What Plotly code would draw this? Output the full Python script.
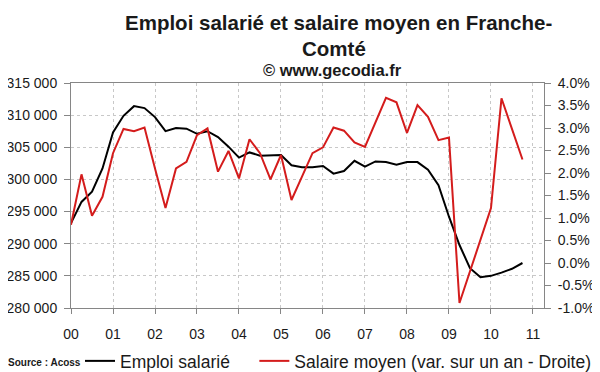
import plotly.graph_objects as go

# Quarterly index: 0 = 2000 Q1 ... 43 = 2010 Q4
quarters = list(range(44))

emploi = [293200, 296500, 298100, 301700, 307300, 309900, 311400, 311100,
          309700, 307500, 308000, 307900, 307100, 307500, 306600, 305100,
          303400, 304200, 303700, 303700, 303800, 302200, 301900, 301900,
          302100, 300900, 301300, 302900, 302000, 302800, 302700, 302300,
          302700, 302700, 301500, 299100, 294200, 289800, 286200, 284800,
          285000, 285500, 286100, 287000]

salaire = [0.85, 1.97, 1.05, 1.47, 2.44, 2.98, 2.93, 3.01,
           2.10, 1.22, 2.10, 2.25, 2.84, 2.99, 2.03, 2.49,
           1.88, 2.75, 2.44, 1.86, 2.40, 1.40, 1.92, 2.44,
           2.57, 3.01, 2.94, 2.68, 2.58, 3.12, 3.67, 3.57,
           2.89, 3.51, 3.25, 2.73, 2.79, -0.89, -0.19, 0.51,
           1.22, 3.66, 2.98, 2.30]

year_ticks = [0, 4, 8, 12, 16, 20, 24, 28, 32, 36, 40, 44]
year_labels = ["00", "01", "02", "03", "04", "05", "06", "07", "08", "09", "10", "11"]

left_ticks = [280000, 285000, 290000, 295000, 300000, 305000, 310000, 315000]
left_labels = ["280 000", "285 000", "290 000", "295 000", "300 000", "305 000", "310 000", "315 000"]

right_ticks = [-1.0, -0.5, 0.0, 0.5, 1.0, 1.5, 2.0, 2.5, 3.0, 3.5, 4.0]
right_labels = ["-1.0%", "-0.5%", "0.0%", "0.5%", "1.0%", "1.5%", "2.0%", "2.5%", "3.0%", "3.5%", "4.0%"]

FONT = "Liberation Sans, Arial, sans-serif"
AXIS_COLOR = "#868686"
GRID_COLOR = "#c8c8c8"
TEXT_COLOR = "#1a1a1a"
NB = "\u00a0"

# The page body adds an 8 px offset; screen layout targets: plot area 71..544 x 83..308
OFF = 8
PL, PR, PT, PB = 71, 544, 83, 308
PW, PH = PR - PL, PB - PT

fig = go.Figure()
fig.add_trace(go.Scatter(x=quarters, y=emploi, mode="lines",
                         name="Emploi salarié" + NB * 4,
                         line=dict(color="#000000", width=2), yaxis="y"))
fig.add_trace(go.Scatter(x=quarters, y=salaire, mode="lines",
                         name="Salaire moyen (var. sur un an - Droite)",
                         line=dict(color="#d41c1c", width=2), yaxis="y2"))

XR = [0, 45.05]
tickfont = dict(family=FONT, size=14, color=TEXT_COLOR)

def py(y):
    return (PB - y) / PH

def pxx(x):
    return (x - PL) / PW

fig.update_layout(
    width=600, height=372,
    margin=dict(l=PL - OFF, r=600 - (PR - OFF), t=PT - OFF, b=372 - (PB - OFF),
                autoexpand=False),
    paper_bgcolor="white", plot_bgcolor="white",
    font=dict(family=FONT, color=TEXT_COLOR),
    showlegend=True,
    xaxis=dict(range=XR, tickvals=year_ticks, ticktext=year_labels, tickfont=tickfont,
               showgrid=True, gridcolor=GRID_COLOR, griddash="dot", gridwidth=1,
               showline=True, linecolor=AXIS_COLOR, linewidth=1, mirror=True,
               ticks="outside", ticklen=5, tickcolor=AXIS_COLOR, ticklabelstandoff=8,
               zeroline=False, automargin=False),
    xaxis2=dict(range=XR, overlaying="x", anchor="y", tickvals=year_ticks,
                showticklabels=False, showgrid=False, showline=False, zeroline=False,
                ticks="inside", ticklen=4, tickcolor=AXIS_COLOR, automargin=False),
    yaxis=dict(range=[280000, 315000], tickvals=left_ticks, ticktext=left_labels,
               tickfont=tickfont, showgrid=True, gridcolor=GRID_COLOR, griddash="dot",
               gridwidth=1, showline=True, linecolor=AXIS_COLOR, linewidth=1,
               ticks="outside", ticklen=6, tickcolor=AXIS_COLOR, ticklabelstandoff=4,
               zeroline=False, automargin=False),
    yaxis2=dict(range=[-1, 4], tickvals=right_ticks, ticktext=right_labels,
                tickfont=tickfont, overlaying="y", side="right", anchor="x",
                showgrid=False, showline=True, linecolor=AXIS_COLOR, linewidth=1,
                ticks="outside", ticklen=6, tickcolor=AXIS_COLOR, ticklabelstandoff=4,
                zeroline=False, automargin=False),
    yaxis3=dict(range=[280000, 315000], tickvals=left_ticks, overlaying="y", side="left",
                anchor="x", showticklabels=False, showgrid=False, showline=False,
                zeroline=False, ticks="inside", ticklen=6, tickcolor=AXIS_COLOR,
                automargin=False),
    yaxis4=dict(range=[-1, 4], tickvals=right_ticks, overlaying="y", side="right",
                anchor="x", showticklabels=False, showgrid=False, showline=False,
                zeroline=False, ticks="inside", ticklen=6, tickcolor=AXIS_COLOR,
                automargin=False),
    legend=dict(orientation="h", x=pxx(597), xanchor="right",
                y=py(361), yanchor="middle",
                font=dict(family=FONT, size=17.5, color=TEXT_COLOR),
                itemwidth=30, bgcolor="rgba(0,0,0,0)", borderwidth=0, tracegroupgap=0),
)

fig.add_annotation(text="<b>Emploi salarié et salaire moyen en Franche-</b>",
                   xref="paper", yref="paper", x=pxx(338), y=py(22),
                   xanchor="center", yanchor="middle", showarrow=False,
                   font=dict(family=FONT, size=20.5, color=TEXT_COLOR))
fig.add_annotation(text="<b>Comté</b>",
                   xref="paper", yref="paper", x=pxx(334), y=py(49),
                   xanchor="center", yanchor="middle", showarrow=False,
                   font=dict(family=FONT, size=20.5, color=TEXT_COLOR))
fig.add_annotation(text="<b>© www.gecodia.fr</b>",
                   xref="paper", yref="paper", x=pxx(332), y=py(70),
                   xanchor="center", yanchor="middle", showarrow=False,
                   font=dict(family=FONT, size=16.5, color=TEXT_COLOR))
fig.add_annotation(text="<b>Source : Acoss</b>",
                   xref="paper", yref="paper", x=pxx(6), y=py(362),
                   xanchor="left", yanchor="middle", showarrow=False,
                   font=dict(family=FONT, size=10, color=TEXT_COLOR))

fig.write_html("out.html")
